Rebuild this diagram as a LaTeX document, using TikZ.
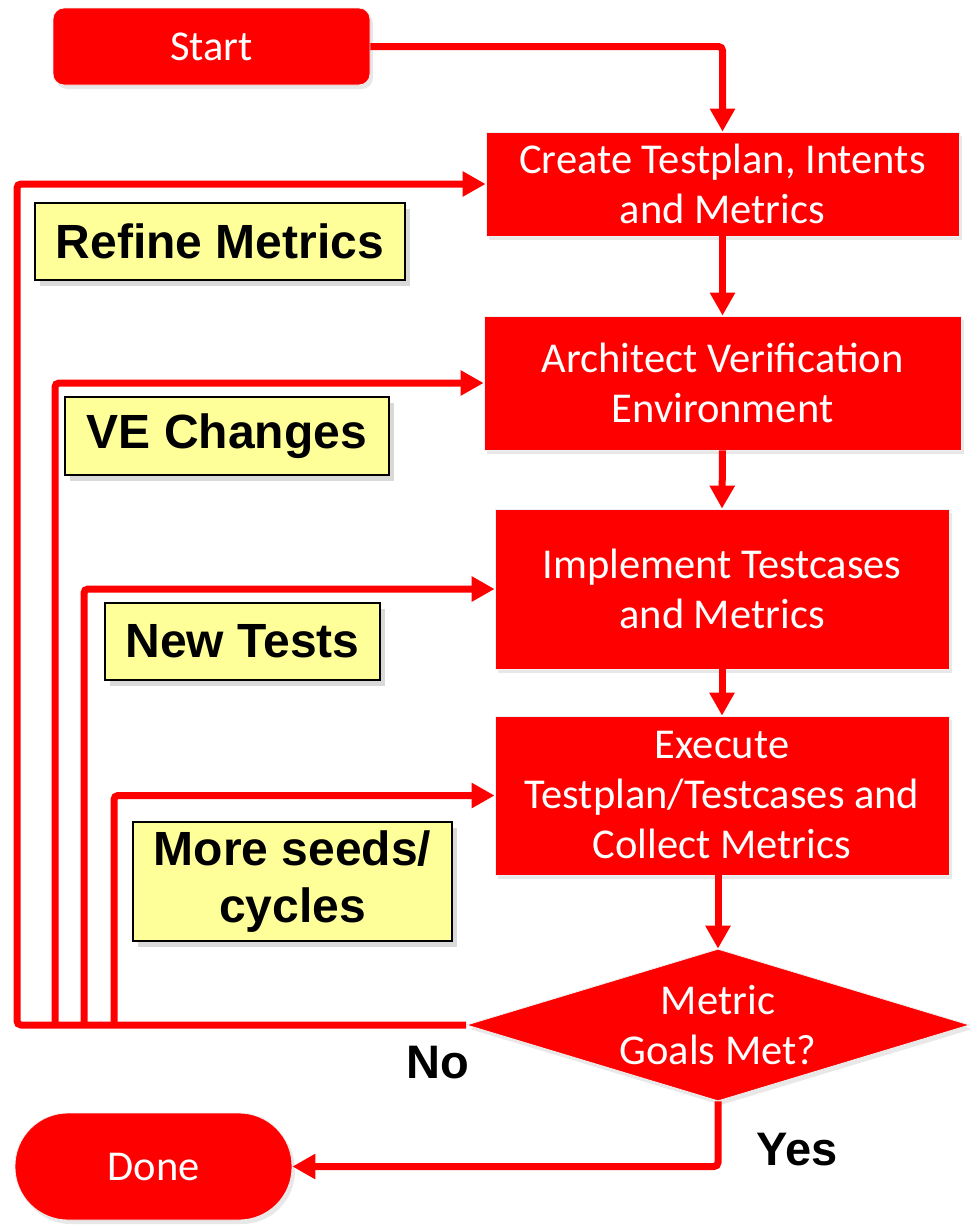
\documentclass[tikz,border=0pt]{standalone}
\usepackage{fontspec}
\setmainfont{Carlito}
\newfontfamily\labfont{Liberation Sans}
\usetikzlibrary{arrows.meta,shapes.geometric,shadows}
\definecolor{flowred}{HTML}{FF0000}
\definecolor{noteyellow}{HTML}{FFFF99}
\tikzset{
  stepbox/.style={rectangle, fill=flowred, draw=black!6, line width=0.8pt, text=white, align=center,
    inner sep=0pt, font=\fontsize{42.5}{50}\selectfont,
    drop shadow={shadow xshift=3pt, shadow yshift=-4pt, opacity=0.15, fill=black!60}},
  notebox/.style={rectangle, fill=noteyellow, draw=black, line width=2pt, align=center,
    inner sep=0pt, font=\labfont\bfseries\fontsize{48}{57}\selectfont,
    drop shadow={shadow xshift=5pt, shadow yshift=-6pt, opacity=0.25, fill=black!60}},
  flow/.style={draw=flowred, line width=7pt, rounded corners=4pt},
  flowarr/.style={flow, -{Triangle[length=23pt,width=24pt]}},
  answer/.style={font=\labfont\bfseries\fontsize{47}{56}\selectfont},
}
\begin{document}
\begin{tikzpicture}[x=1pt,y=-1pt]
\useasboundingbox (0,0) rectangle (971,1226);

% process steps
\node[stepbox, rounded corners=11pt, minimum width=317pt, minimum height=77pt] (start) at (211.5,46.5) {Start};
\node[stepbox, minimum width=473pt, minimum height=104pt] (plan) at (722.5,184) {Create Testplan, Intents\\and Metrics};
\node[stepbox, minimum width=477pt, minimum height=134pt] (arch) at (722.5,383) {Architect Verification\\Environment};
\node[stepbox, minimum width=454pt, minimum height=160pt] (impl) at (722,589) {Implement Testcases\\and Metrics};
\node[stepbox, minimum width=454pt, minimum height=159pt] (exec) at (722,795.5) {Execute\\Testplan/Testcases and\\Collect Metrics};
\node[stepbox, shape=diamond, shape aspect=3.3, minimum width=503pt, minimum height=152pt] (goal) at (718,1025) {Metric\\Goals Met?};
\node[stepbox, rounded corners=53pt, minimum width=277pt, minimum height=107pt] (done) at (153.5,1166.5) {Done};

% feedback notes
\node[notebox, minimum width=370pt, minimum height=77pt] (n1) at (220,241.5) {Refine Metrics};
\node[notebox, minimum width=324pt, minimum height=78pt] (n2) at (227,436) {VE Changes};
\node[notebox, minimum width=275pt, minimum height=77pt] (n3) at (242.5,641.5) {New Tests};
\node[notebox, minimum width=319pt, minimum height=119pt] (n4) at (292.5,881.5) {More seeds/\\cycles};

% forward flow
\draw[flowarr] (start.east) -| (plan.north);
\draw[flowarr] (plan.south) -- (arch.north);
\draw[flowarr] (arch.south) -- (impl.north);
\draw[flowarr] (impl.south) -- (exec.north);
\draw[flowarr] (exec.south -| goal.north) -- (goal.north);
\draw[flowarr] (goal.south) |- (done.east);

% loop-back paths
\coordinate (f1) at (17,1025);
\coordinate (f2) at (55,1025);
\coordinate (f3) at (84,1025);
\coordinate (f4) at (114,1025);
\draw[flowarr] (goal.west) -- (f1) |- (plan.west);
\draw[flowarr] (f2) |- (arch.west);
\draw[flowarr] (f3) |- (impl.west);
\draw[flowarr] (f4) |- (exec.west);

% decision labels
\node[answer] (no) at (438,1063) {No};
\node[answer] (yes) at (797,1150) {Yes};
\end{tikzpicture}
\end{document}
